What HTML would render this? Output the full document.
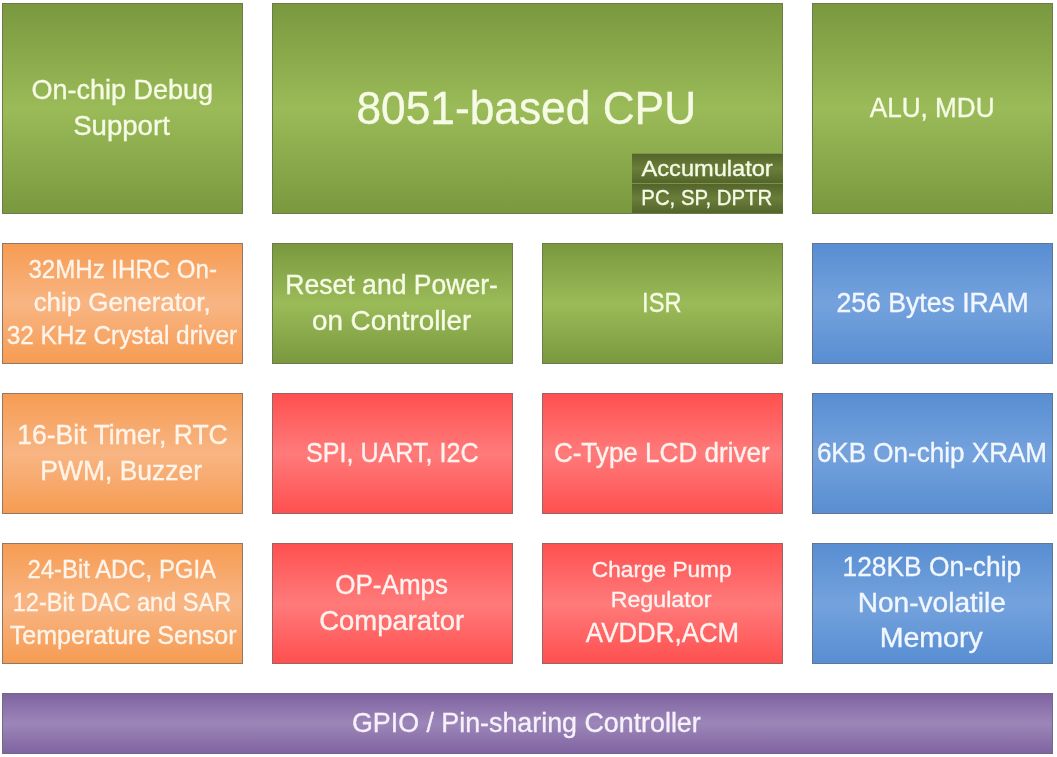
<!DOCTYPE html>
<html>
<head>
<meta charset="utf-8">
<title>8051 MCU Block Diagram</title>
<style>
html,body{margin:0;padding:0;background:#fff;}
body{width:1057px;height:757px;position:relative;overflow:hidden;font-family:"Liberation Sans",sans-serif;}
.b{position:absolute;box-sizing:border-box;border:1px solid #707070;}
.b svg{position:absolute;left:-1px;top:-1px;overflow:visible;}
.b text{font-family:"Liberation Sans",sans-serif;stroke-width:0.35px;}
.g{background:linear-gradient(to bottom,#7a983e 0%,#9bbb59 50%,#7a983e 100%);border-color:#6d7b48;}
.g text{fill:#f6fbe5;stroke:#f6fbe5;}
.o{background:linear-gradient(to bottom,#f69c53 0%,#f8b583 50%,#f69c53 100%);border-color:#947762;}
.o text{fill:#fff4ea;stroke:#fff4ea;}
.r{background:linear-gradient(to bottom,#ff5050 0%,#ff7a7a 50%,#ff5050 100%);border-color:#9a6464;}
.r text{fill:#fff3f0;stroke:#fff3f0;}
.u{background:linear-gradient(to bottom,#588ed2 0%,#74a2dd 50%,#588ed2 100%);border-color:#627693;}
.u text{fill:#f2f7ff;stroke:#f2f7ff;}
.p{background:linear-gradient(to bottom,#8064a2 0%,#9c86b8 50%,#8064a2 100%);border-color:#73688a;}
.p text{fill:#f6f1fb;stroke:#f6f1fb;}
.d{background:linear-gradient(to bottom,#53652a 0%,#6a7e3a 50%,#53652a 100%);border:0;border-top:1px solid #7d9447;}
.d svg{left:0;top:-1px;}
.d text{fill:#f6fbe5;stroke:#f6fbe5;}

</style>
</head>
<body>
<div class="b g" style="left:2px;top:3px;width:241px;height:211px;">
<svg width="241" height="211" viewBox="2 3 241 211">
<text x="31.42" y="99.30" font-size="26.84" textLength="181.62" lengthAdjust="spacingAndGlyphs">On-chip Debug</text>
<text x="73.15" y="134.90" font-size="26.84" textLength="96.66" lengthAdjust="spacingAndGlyphs">Support</text>
</svg>
</div>
<div class="b g" style="left:272px;top:3px;width:511px;height:211px;">
<svg width="511" height="211" viewBox="272 3 511 211">
<text x="356.48" y="123.60" font-size="46.66" textLength="339.64" lengthAdjust="spacingAndGlyphs">8051-based CPU</text>
</svg>
</div>
<div class="b d" style="left:632px;top:153px;width:151px;height:30px;">
<svg width="151" height="30" viewBox="632 153 151 30">
<text x="641.55" y="175.80" font-size="21.40" textLength="131.14" lengthAdjust="spacingAndGlyphs">Accumulator</text>
</svg>
</div>
<div class="b d" style="left:632px;top:183px;width:151px;height:30px;">
<svg width="151" height="30" viewBox="632 183 151 30">
<text x="641.33" y="205.10" font-size="21.40" textLength="130.92" lengthAdjust="spacingAndGlyphs">PC, SP, DPTR</text>
</svg>
</div>
<div class="b g" style="left:812px;top:3px;width:241px;height:211px;">
<svg width="241" height="211" viewBox="812 3 241 211">
<text x="869.75" y="117.10" font-size="26.84" textLength="124.77" lengthAdjust="spacingAndGlyphs">ALU, MDU</text>
</svg>
</div>
<div class="b o" style="left:2px;top:243px;width:241px;height:121px;">
<svg width="241" height="121" viewBox="2 243 241 121">
<text x="28.48" y="278.30" font-size="25.07" textLength="188.49" lengthAdjust="spacingAndGlyphs">32MHz IHRC On-</text>
<text x="33.70" y="311.40" font-size="25.07" textLength="176.92" lengthAdjust="spacingAndGlyphs">chip Generator,</text>
<text x="6.67" y="343.80" font-size="25.07" textLength="230.43" lengthAdjust="spacingAndGlyphs">32 KHz Crystal driver</text>
</svg>
</div>
<div class="b g" style="left:272px;top:243px;width:241px;height:121px;">
<svg width="241" height="121" viewBox="272 243 241 121">
<text x="285.32" y="294.20" font-size="26.84" textLength="212.66" lengthAdjust="spacingAndGlyphs">Reset and Power-</text>
<text x="311.93" y="329.60" font-size="26.84" textLength="159.33" lengthAdjust="spacingAndGlyphs">on Controller</text>
</svg>
</div>
<div class="b g" style="left:542px;top:243px;width:241px;height:121px;">
<svg width="241" height="121" viewBox="542 243 241 121">
<text x="642.12" y="312.10" font-size="26.84" textLength="39.38" lengthAdjust="spacingAndGlyphs">ISR</text>
</svg>
</div>
<div class="b u" style="left:812px;top:243px;width:241px;height:121px;">
<svg width="241" height="121" viewBox="812 243 241 121">
<text x="836.46" y="311.90" font-size="26.84" textLength="192.22" lengthAdjust="spacingAndGlyphs">256 Bytes IRAM</text>
</svg>
</div>
<div class="b o" style="left:2px;top:393px;width:241px;height:121px;">
<svg width="241" height="121" viewBox="2 393 241 121">
<text x="17.18" y="444.20" font-size="26.84" textLength="210.64" lengthAdjust="spacingAndGlyphs">16-Bit Timer, RTC</text>
<text x="40.23" y="479.60" font-size="26.84" textLength="161.91" lengthAdjust="spacingAndGlyphs">PWM, Buzzer</text>
</svg>
</div>
<div class="b r" style="left:272px;top:393px;width:241px;height:121px;">
<svg width="241" height="121" viewBox="272 393 241 121">
<text x="306.06" y="461.90" font-size="26.84" textLength="172.50" lengthAdjust="spacingAndGlyphs">SPI, UART, I2C</text>
</svg>
</div>
<div class="b r" style="left:542px;top:393px;width:241px;height:121px;">
<svg width="241" height="121" viewBox="542 393 241 121">
<text x="553.88" y="461.90" font-size="26.84" textLength="215.76" lengthAdjust="spacingAndGlyphs">C-Type LCD driver</text>
</svg>
</div>
<div class="b u" style="left:812px;top:393px;width:241px;height:121px;">
<svg width="241" height="121" viewBox="812 393 241 121">
<text x="816.88" y="461.90" font-size="26.84" textLength="230.16" lengthAdjust="spacingAndGlyphs">6KB On-chip XRAM</text>
</svg>
</div>
<div class="b o" style="left:2px;top:543px;width:241px;height:121px;">
<svg width="241" height="121" viewBox="2 543 241 121">
<text x="27.50" y="578.30" font-size="25.07" textLength="188.45" lengthAdjust="spacingAndGlyphs">24-Bit ADC, PGIA</text>
<text x="12.71" y="611.40" font-size="25.07" textLength="218.48" lengthAdjust="spacingAndGlyphs">12-Bit DAC and SAR</text>
<text x="9.84" y="643.80" font-size="25.07" textLength="226.78" lengthAdjust="spacingAndGlyphs">Temperature Sensor</text>
</svg>
</div>
<div class="b r" style="left:272px;top:543px;width:241px;height:121px;">
<svg width="241" height="121" viewBox="272 543 241 121">
<text x="335.27" y="594.20" font-size="26.84" textLength="112.77" lengthAdjust="spacingAndGlyphs">OP-Amps</text>
<text x="319.31" y="629.60" font-size="26.84" textLength="144.85" lengthAdjust="spacingAndGlyphs">Comparator</text>
</svg>
</div>
<div class="b r" style="left:542px;top:543px;width:241px;height:121px;">
<svg width="241" height="121" viewBox="542 543 241 121">
<text x="591.85" y="577.00" font-size="21.40" textLength="139.70" lengthAdjust="spacingAndGlyphs">Charge Pump</text>
<text x="610.70" y="607.10" font-size="21.40" textLength="100.69" lengthAdjust="spacingAndGlyphs">Regulator</text>
<text x="585.85" y="641.80" font-size="26.84" textLength="153.27" lengthAdjust="spacingAndGlyphs">AVDDR,ACM</text>
</svg>
</div>
<div class="b u" style="left:812px;top:543px;width:241px;height:121px;">
<svg width="241" height="121" viewBox="812 543 241 121">
<text x="842.59" y="576.40" font-size="26.84" textLength="178.61" lengthAdjust="spacingAndGlyphs">128KB On-chip</text>
<text x="857.70" y="611.90" font-size="26.84" textLength="148.25" lengthAdjust="spacingAndGlyphs">Non-volatile</text>
<text x="879.66" y="647.40" font-size="26.84" textLength="103.10" lengthAdjust="spacingAndGlyphs">Memory</text>
</svg>
</div>
<div class="b p" style="left:2px;top:693px;width:1051px;height:61px;">
<svg width="1051" height="61" viewBox="2 693 1051 61">
<text x="351.95" y="731.90" font-size="26.84" textLength="348.79" lengthAdjust="spacingAndGlyphs">GPIO / Pin-sharing Controller</text>
</svg>
</div>
</body>
</html>
